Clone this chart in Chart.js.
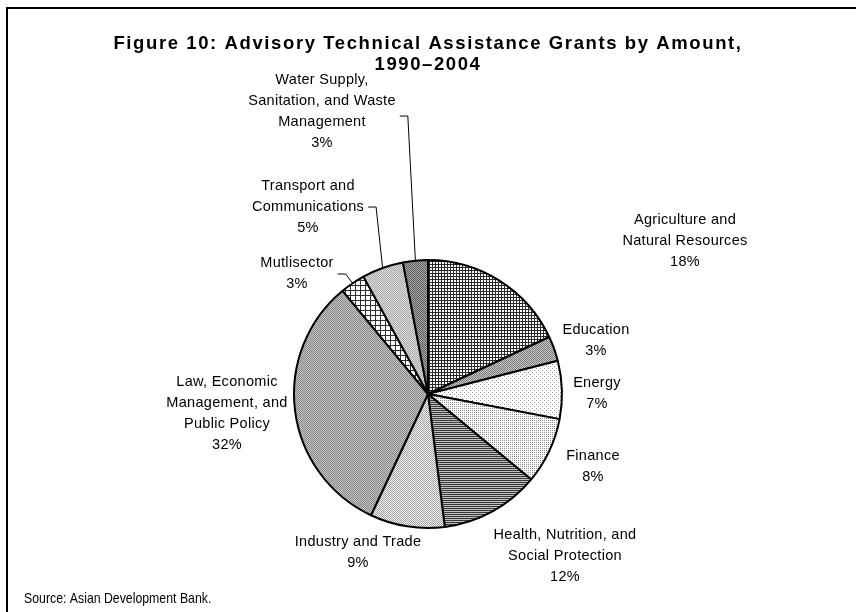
<!DOCTYPE html>
<html>
<head>
<meta charset="utf-8">
<script src="https://cdn.jsdelivr.net/npm/chart.js@4/dist/chart.umd.min.js"></script>
<style>
  html, body { margin: 0; padding: 0; background: #fff; }
  #wrap { position: relative; width: 856px; height: 612px; overflow: hidden; }
  #frame { position: absolute; left: 6px; top: 7px; width: 900px; height: 700px;
           border-top: 2px solid #000; border-left: 2px solid #000; }
  #c { position: absolute; left: 0; top: 0; }
</style>
</head>
<body>
<div id="wrap">
  <div id="frame"></div>
  <canvas id="c" width="856" height="612"></canvas>
</div>
<script>
// Sectors, clockwise from twelve o'clock
const categories = [
  'Agriculture and Natural Resources',
  'Education',
  'Energy',
  'Finance',
  'Health, Nutrition, and Social Protection',
  'Industry and Trade',
  'Law, Economic Management, and Public Policy',
  'Mutlisector',
  'Transport and Communications',
  'Water Supply, Sanitation, and Waste Management'
];
// Share of grant amount, %
const shares = [18, 3, 7, 8, 12, 9, 32, 3, 5, 3];
// How each sector name is broken over lines in its label
const labelLines = [
  ['Agriculture and', 'Natural Resources'],
  ['Education'],
  ['Energy'],
  ['Finance'],
  ['Health, Nutrition, and', 'Social Protection'],
  ['Industry and Trade'],
  ['Law, Economic', 'Management, and', 'Public Policy'],
  ['Mutlisector'],
  ['Transport and', 'Communications'],
  ['Water Supply,', 'Sanitation, and Waste', 'Management']
];
const titleLines = ['Figure 10: Advisory Technical Assistance Grants by Amount,', '1990\u20132004'];
const sourceNote = 'Source: Asian Development Bank.';

// ---- layout of the outside labels (offset of each label block from the pie centre) ----
const labelOffsets = [
  [257, -153], [168, -54], [169, -1], [165, 72], [137, 162],
  [-70, 158], [-201, 19], [-131, -121], [-120, -187], [-106, -283]
];
// labels joined to their slice by a leader line: index -> vertical nudge of the leader start
const leaders = { 7: 1, 8: 0, 9: 5 };

const FONT = '"Liberation Sans", Arial, Helvetica, sans-serif';
const LABEL_SIZE = 14.5;
const LINE_H = 21;

// ---- monochrome fill patterns ----
const mainCtx = document.getElementById('c').getContext('2d');
function tile(w, h, paint) {
  const cv = document.createElement('canvas');
  cv.width = w; cv.height = h;
  const g = cv.getContext('2d');
  paint(g);
  return mainCtx.createPattern(cv, 'repeat');
}
function grid(size, bg, ink) {
  return tile(size, size, g => {
    g.fillStyle = bg; g.fillRect(0, 0, size, size);
    g.fillStyle = ink; g.fillRect(0, 0, size, 1); g.fillRect(0, 0, 1, size);
  });
}
function checker(a, b) {
  return tile(2, 2, g => {
    g.fillStyle = b; g.fillRect(0, 0, 2, 2);
    g.fillStyle = a; g.fillRect(0, 0, 1, 1); g.fillRect(1, 1, 1, 1);
  });
}
function dots(size, bg, ink, pts) {
  return tile(size, size, g => {
    g.fillStyle = bg; g.fillRect(0, 0, size, size);
    g.fillStyle = ink; pts.forEach(p => g.fillRect(p[0], p[1], 1, 1));
  });
}
function stripes(dark, light) {
  return tile(4, 2, g => {
    g.fillStyle = light; g.fillRect(0, 0, 4, 2);
    g.fillStyle = dark; g.fillRect(0, 0, 4, 1);
  });
}

const fills = [
  grid(3, '#ffffff', '#2a2a2a'),                       // agriculture: fine grid
  checker('#7a7a7a', '#c8c8c8'),                       // education: gray
  dots(4, '#ffffff', '#9a9a9a', [[0, 0], [2, 2]]),     // energy: sparse dots
  dots(2, '#ffffff', '#8c8c8c', [[0, 0]]),             // finance: dotted
  stripes('#383838', '#c0c0c0'),                       // health: horizontal lines
  dots(2, '#f4f4f4', '#a0a0a0', [[0, 0], [1, 1]]),     // industry: light stipple
  checker('#888888', '#c4c4c4'),                       // law: medium gray
  grid(5, '#ffffff', '#303030'),                       // multisector: open grid
  checker('#a8a8a8', '#dedede'),                       // transport: light gray
  checker('#5e5e5e', '#a6a6a6')                        // water: dark gray
];

// ---- outside labels, leader lines and source note ----
const outsideLabels = {
  id: 'outsideLabels',
  beforeDraw(chart) { chart.ctx.letterSpacing = '1.6px'; },
  beforeDatasetsDraw(chart) { chart.ctx.letterSpacing = '0px'; },
  afterDraw(chart) {
    const ctx = chart.ctx;
    const arcs = chart.getDatasetMeta(0).data;
    const cx = arcs[0].x, cy = arcs[0].y, r = arcs[0].outerRadius;
    ctx.save();
    ctx.fillStyle = '#000';
    ctx.textAlign = 'center';
    ctx.textBaseline = 'middle';
    ctx.font = LABEL_SIZE + 'px ' + FONT;
    ctx.letterSpacing = '0.3px';
    arcs.forEach((arc, i) => {
      const lines = labelLines[i].concat([Math.round(shares[i]) + '%']);
      const bx = cx + labelOffsets[i][0];
      const by = cy + labelOffsets[i][1];
      const top = by - (lines.length - 1) * LINE_H / 2;
      lines.forEach((t, k) => ctx.fillText(t, bx, top + k * LINE_H));
      if (i in leaders) {
        const w = Math.max.apply(null, labelLines[i].map(t => ctx.measureText(t).width));
        const sx = bx + w / 2 + 4;
        const sy = by + leaders[i];
        const mid = (arc.startAngle + arc.endAngle) / 2;
        const ex = cx + Math.cos(mid) * r;
        const ey = cy + Math.sin(mid) * r;
        ctx.beginPath();
        ctx.moveTo(sx, sy);
        ctx.lineTo(sx + 8, sy);
        ctx.lineTo(ex, ey);
        ctx.lineWidth = 1;
        ctx.strokeStyle = '#000';
        ctx.stroke();
      }
    });
    // source note, set in a slightly condensed width
    ctx.letterSpacing = '0px';
    ctx.textAlign = 'left';
    ctx.font = '15px ' + FONT;
    ctx.translate(24, 599);
    ctx.scale(0.82, 1);
    ctx.fillText(sourceNote, 0, 0);
    ctx.restore();
  }
};

new Chart(document.getElementById('c'), {
  type: 'pie',
  data: {
    labels: categories,
    datasets: [{
      data: shares,
      backgroundColor: fills,
      borderColor: '#000',
      borderWidth: 2,
      borderAlign: 'center'
    }]
  },
  options: {
    responsive: false,
    animation: false,
    events: [],
    rotation: 0,
    layout: { padding: { left: 0, right: 0, bottom: 83, top: 0 } },
    plugins: {
      legend: { display: false },
      tooltip: { enabled: false },
      title: {
        display: true,
        text: titleLines,
        color: '#000',
        font: { family: FONT, size: 18.5, weight: 'bold', lineHeight: 1.15 },
        padding: { top: 33, bottom: 183.5 }
      }
    }
  },
  plugins: [outsideLabels]
});
</script>
</body>
</html>
